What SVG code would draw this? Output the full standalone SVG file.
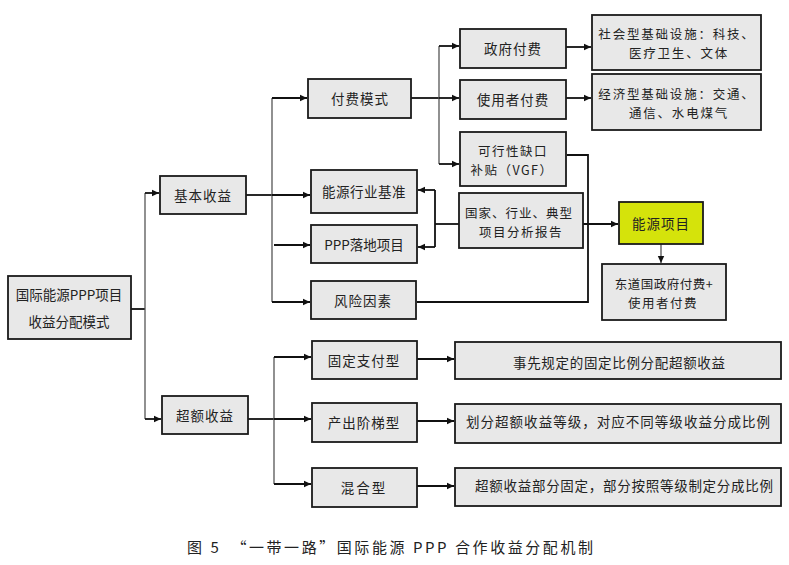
<svg xmlns="http://www.w3.org/2000/svg" width="789" height="565" viewBox="0 0 789 565">
<style>
.b{fill:#e8e8e8;stroke:#1a1a1a;stroke-width:1.8}
.y{fill:#d5e30b;stroke:#1a1a1a;stroke-width:1.8}
text{font-family:"Noto Sans CJK SC","Noto Sans",sans-serif;font-size:13.5px;fill:#222;text-anchor:middle;dominant-baseline:central}
.t{font-size:12.5px}
.h{fill:none;stroke:#111;stroke-width:1.8}
.v{fill:none;stroke:#555;stroke-width:1.3}
.cap{font-size:15px;fill:#222}
</style>
<defs>
<marker id="a" markerWidth="8" markerHeight="8" refX="7" refY="4" orient="auto" markerUnits="userSpaceOnUse">
<path d="M0,0.8 L7,4 L0,7.2 Z" fill="#111"/>
</marker>
</defs>
<rect width="789" height="565" fill="#fff"/>
<g id="connectors">
<path class="h" d="M131,309 H145"/>
<path class="v" d="M145,193 V419"/>
<path class="h" d="M145,193 H159" marker-end="url(#a)"/>
<path class="h" d="M145,419 H161" marker-end="url(#a)"/>
<path class="h" d="M246,195 H272"/>
<path class="v" d="M272,98 V302"/>
<path class="h" d="M272,98 H307" marker-end="url(#a)"/>
<path class="h" d="M272,195 H310" marker-end="url(#a)"/>
<path class="h" d="M274,245 H310" marker-end="url(#a)"/>
<path class="h" d="M272,302 H310" marker-end="url(#a)"/>
<path class="h" d="M411,98 H439"/>
<path class="v" d="M439,46 V164"/>
<path class="h" d="M439,46 H459" marker-end="url(#a)"/>
<path class="h" d="M439,98 H459" marker-end="url(#a)"/>
<path class="h" d="M439,164 H459" marker-end="url(#a)"/>
<path class="h" d="M566,47 H591" marker-end="url(#a)"/>
<path class="h" d="M566,98 H591" marker-end="url(#a)"/>
<path class="h" d="M567,155 H588 V302 H417"/>
<path class="h" d="M459,224 H435"/>
<path class="h" d="M435,190 V247"/>
<path class="h" d="M435,190 H418" marker-end="url(#a)"/>
<path class="h" d="M435,247 H418" marker-end="url(#a)"/>
<path class="h" d="M583,224 H618" marker-end="url(#a)"/>
<path class="v" d="M661,244 V263" marker-end="url(#a)"/>
<path class="h" d="M248,419 H274"/>
<path class="v" d="M274,357 V484"/>
<path class="h" d="M274,357 H311" marker-end="url(#a)"/>
<path class="h" d="M274,419 H311" marker-end="url(#a)"/>
<path class="h" d="M274,484 H311" marker-end="url(#a)"/>
<path class="h" d="M417,359 H454" marker-end="url(#a)"/>
<path class="h" d="M417,421 H454" marker-end="url(#a)"/>
<path class="h" d="M417,486 H454" marker-end="url(#a)"/>
</g>
<g id="root"><rect class="b" x="8" y="276" width="123" height="63"/><text x="69" y="294">国际能源PPP项目</text><text x="69" y="321">收益分配模式</text></g>
<g id="basic"><rect class="b" x="160" y="176" width="86" height="38"/><text x="203" y="195" letter-spacing="1">基本收益</text></g>
<g id="excess"><rect class="b" x="162" y="396" width="86" height="38"/><text x="205" y="415" letter-spacing="1">超额收益</text></g>
<g id="paymode"><rect class="b" x="308" y="79" width="103" height="39"/><text x="360" y="98" letter-spacing="1">付费模式</text></g>
<g id="benchmark"><rect class="b" x="311" y="170" width="106" height="43"/><text x="364" y="191" letter-spacing="0.5">能源行业基准</text></g>
<g id="ppp"><rect class="b" x="311" y="225" width="106" height="38"/><text x="364" y="244">PPP落地项目</text></g>
<g id="risk"><rect class="b" x="311" y="281" width="105" height="38"/><text x="363" y="300" letter-spacing="1">风险因素</text></g>
<g id="gov"><rect class="b" x="460" y="29" width="106" height="39"/><text x="513" y="48" letter-spacing="1">政府付费</text></g>
<g id="user"><rect class="b" x="460" y="80" width="106" height="39"/><text x="513" y="99" letter-spacing="1">使用者付费</text></g>
<g id="vgf"><rect class="b" x="460" y="132" width="106" height="54"/><text class="t" x="513" y="150" letter-spacing="1.5">可行性缺口</text><text class="t" x="512" y="169" letter-spacing="1.5">补贴（VGF）</text></g>
<g id="social"><rect class="b" x="592" y="15" width="169" height="55"/><text class="t" x="677" y="33" letter-spacing="1.8">社会型基础设施：科技、</text><text class="t" x="679" y="52" letter-spacing="1.8">医疗卫生、文体</text></g>
<g id="econ"><rect class="b" x="592" y="74" width="169" height="56"/><text class="t" x="677" y="93" letter-spacing="1.8">经济型基础设施：交通、</text><text class="t" x="679" y="112" letter-spacing="1.8">通信、水电煤气</text></g>
<g id="report"><rect class="b" x="459" y="193" width="124" height="55"/><text class="t" x="519" y="212" letter-spacing="1">国家、行业、典型</text><text class="t" x="521" y="231" letter-spacing="1.5">项目分析报告</text></g>
<g id="energy"><rect class="y" x="619" y="202" width="84" height="42"/><text x="661" y="223" letter-spacing="1">能源项目</text></g>
<g id="host"><rect class="b" x="602" y="264" width="124" height="56"/><text class="t" x="664" y="283" letter-spacing="0.5">东道国政府付费+</text><text class="t" x="663" y="302" letter-spacing="1.5">使用者付费</text></g>
<g id="fixed"><rect class="b" x="312" y="341" width="105" height="38"/><text x="364" y="360" letter-spacing="1">固定支付型</text></g>
<g id="tier"><rect class="b" x="312" y="403" width="105" height="39"/><text x="364" y="422" letter-spacing="1">产出阶梯型</text></g>
<g id="mixed"><rect class="b" x="312" y="468" width="105" height="39"/><text x="364" y="487" letter-spacing="2">混合型</text></g>
<g id="fixedDesc"><rect class="b" x="455" y="342" width="326" height="37"/><text x="619" y="362" textLength="212" lengthAdjust="spacing">事先规定的固定比例分配超额收益</text></g>
<g id="tierDesc"><rect class="b" x="455" y="404" width="326" height="39"/><text x="618" y="421" textLength="304" lengthAdjust="spacing">划分超额收益等级，对应不同等级收益分成比例</text></g>
<g id="mixedDesc"><rect class="b" x="455" y="468" width="326" height="38"/><text x="624" y="485" textLength="298" lengthAdjust="spacing">超额收益部分固定，部分按照等级制定分成比例</text></g>
<text class="cap" x="390" y="546" textLength="406" lengthAdjust="spacing">图 5　“一带一路”国际能源 PPP 合作收益分配机制</text>
</svg>
